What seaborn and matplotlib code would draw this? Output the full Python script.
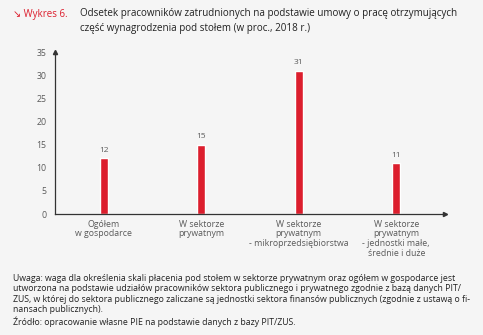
import matplotlib
matplotlib.use("Agg")
import matplotlib.pyplot as plt
import seaborn as sns
import pandas as pd

# dane z wykresu
kategorie = [
    "Ogółem\nw gospodarce",
    "W sektorze\nprywatnym",
    "W sektorze\nprywatnym\n- mikroprzedsiębiorstwa",
    "W sektorze\nprywatnym\n- jednostki małe,\nśrednie i duże",
]
wartosci = [12, 15, 31, 11]
y_ticks = [0, 5, 10, 15, 20, 25, 30, 35]

tytul = ("Odsetek pracowników zatrudnionych na podstawie umowy o pracę otrzymujących\n"
         "część wynagrodzenia pod stołem (w proc., 2018 r.)")
uwaga = ("Uwaga: waga dla określenia skali płacenia pod stołem w sektorze prywatnym oraz ogółem w gospodarce jest\n"
         "utworzona na podstawie udziałów pracowników sektora publicznego i prywatnego zgodnie z bazą danych PIT/\n"
         "ZUS, w której do sektora publicznego zaliczane są jednostki sektora finansów publicznych (zgodnie z ustawą o fi-\n"
         "nansach publicznych).")
zrodlo = "Źródło: opracowanie własne PIE na podstawie danych z bazy PIT/ZUS."

sns.set_style("white")
plt.rcParams["font.family"] = ["Open Sans", "DejaVu Sans"]

bg = "#f5f5f5"
red = "#dc1e2d"
grey = "#5a5a5a"

df = pd.DataFrame({"kat": kategorie, "val": wartosci})

fig = plt.figure(figsize=(4.83, 3.35), dpi=100, facecolor=bg)
ax = fig.add_axes([55 / 483, 1 - 214 / 335, 390 / 483, 162 / 335])
ax.set_facecolor(bg)

sns.barplot(data=df, x="kat", y="val", color=red, width=0.085, saturation=1, ax=ax)

for i, v in enumerate(wartosci):
    ax.text(i, v + 0.9, str(v), ha="center", va="bottom", fontsize=6, color=grey)

ax.set_xlim(-0.5, 3.5)
ax.set_ylim(0, 35)
ax.set_yticks(y_ticks)
ax.set_xlabel("")
ax.set_ylabel("")
ax.tick_params(axis="both", length=0, labelsize=6.3, colors=grey)
ax.tick_params(axis="x", pad=4)
ax.tick_params(axis="y", pad=6)
for lab in ax.get_xticklabels():
    lab.set_linespacing(1.1)

for s in ["top", "right"]:
    ax.spines[s].set_visible(False)
for s in ["left", "bottom"]:
    ax.spines[s].set_color("#333333")
    ax.spines[s].set_linewidth(0.9)

# strzałki osi
ax.plot(1, 0, ">", transform=ax.transAxes, color="#333333", markersize=3, clip_on=False)
ax.plot(0, 1, "^", transform=ax.transAxes, color="#333333", markersize=3, clip_on=False)

fig.text(13 / 483, 1 - 15 / 335, "↘ Wykres 6.", color=red, fontsize=7, va="center",
         family=["Open Sans", "DejaVu Sans"])
fig.text(80 / 483, 1 - 8 / 335, tytul, color="#222222", fontsize=7.1, va="top", linespacing=1.55)

fig.text(13 / 483, 1 - 274 / 335, uwaga, color="#222222", fontsize=6.3, va="top", linespacing=1.2)
fig.text(13 / 483, 1 - 322 / 335, zrodlo, color="#222222", fontsize=6.3, va="center")

fig.savefig("out.png", dpi=100, facecolor=bg)
